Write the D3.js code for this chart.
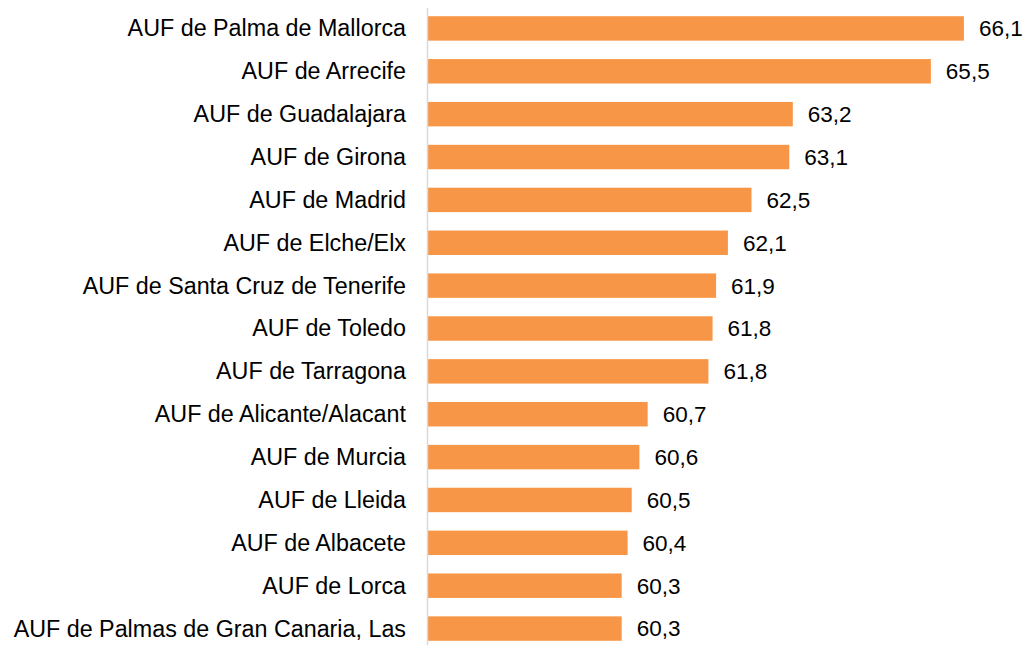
<!DOCTYPE html>
<html>
<head>
<meta charset="utf-8">
<script src="https://cdn.jsdelivr.net/npm/d3@7"></script>
<style>
  body { margin: 0; background: #fff; }
  text { font-family: Arial, "Liberation Sans", sans-serif; }
</style>
</head>
<body>
<script>
// chart data, top to bottom
const categories = [
  "AUF de Palma de Mallorca",
  "AUF de Arrecife",
  "AUF de Guadalajara",
  "AUF de Girona",
  "AUF de Madrid",
  "AUF de Elche/Elx",
  "AUF de Santa Cruz de Tenerife",
  "AUF de Toledo",
  "AUF de Tarragona",
  "AUF de Alicante/Alacant",
  "AUF de Murcia",
  "AUF de Lleida",
  "AUF de Albacete",
  "AUF de Lorca",
  "AUF de Palmas de Gran Canaria, Las"
]
const values = [66.1, 65.54, 63.2, 63.14, 62.5, 62.1, 61.9, 61.84, 61.77, 60.74, 60.6, 60.47, 60.4, 60.3, 60.3]

const width = 1024,
      height = 645

const svg = d3.select("body")
  .append("svg")
  .attr("width", width)
  .attr("height", height)

// the value axis does not start at zero in the original
const x = d3.scaleLinear()
  .domain([57, 67])
  .range([427, 1017])

const y = d3.scaleBand()
  .domain(categories)
  .range([7, 650])
  .paddingInner(0.43)
  .paddingOuter(0.215)

const fmt = v => d3.format(".1f")(v).replace(".", ",")

// bars
svg.append("g")
  .attr("id", "bars")
  .selectAll("rect")
  .data(categories)
  .enter()
  .append("rect")
  .attr("x", x(57) + 1)
  .attr("y", d => y(d))
  .attr("width", (d, i) => x(values[i]) - x(57) - 1)
  .attr("height", y.bandwidth())
  .attr("fill", "#F79646")

// category axis
const yAxis = svg.append("g")
  .attr("id", "y-axis")
  .attr("transform", `translate(${x(57)}, 0)`)
  .call(d3.axisLeft(y).tickSize(0).tickPadding(21))
yAxis.select(".domain")
  .attr("d", `M0.5,8V${height}`)
  .attr("stroke", "#d9d9d9")
  .attr("stroke-width", 1.5)
yAxis.selectAll("text")
  .attr("fill", "#000")
  .attr("dy", "0.34em")
  .style("font-size", "23.3px")
  .style("font-family", "Arial, 'Liberation Sans', sans-serif")

// value labels
svg.append("g")
  .attr("id", "labels")
  .selectAll("text")
  .data(categories)
  .enter()
  .append("text")
  .attr("x", (d, i) => x(values[i]) + 15)
  .attr("y", d => y(d) + y.bandwidth() / 2)
  .attr("dy", "0.35em")
  .attr("fill", "#000")
  .style("font-size", "22.5px")
  .text((d, i) => fmt(values[i]))
</script>
</body>
</html>
